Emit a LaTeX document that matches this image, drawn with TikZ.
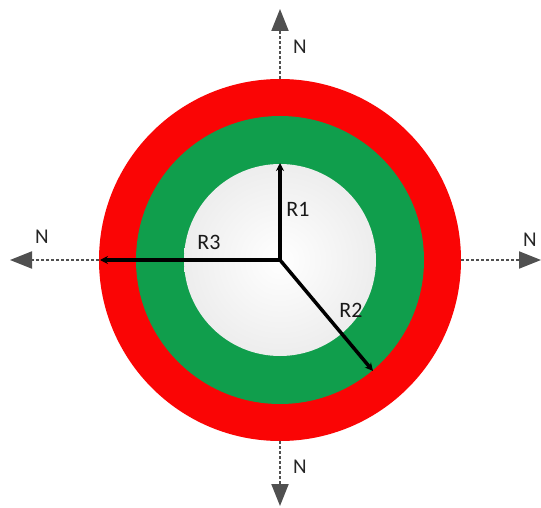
\documentclass[tikz,border=0pt]{standalone}
\usepackage{fontspec}
\setmainfont{Carlito}
\usetikzlibrary{arrows.meta}
\definecolor{ringred}{RGB}{250,5,5}
\definecolor{ringgreen}{RGB}{16,158,76}
\definecolor{dashgray}{RGB}{80,80,80}
\tikzset{
  lbl/.style={font=\fontsize{22}{24}\selectfont, text=black!90, inner sep=0pt},
  nlbl/.style={font=\fontsize{21}{23}\selectfont, text=black!85, inner sep=0pt},
  nline/.style={dashgray, line width=2pt, dash pattern=on 3pt off 2pt, -{Triangle[length=22pt,width=17pt]}},
  radius arrow/.style={black, line width=3.5pt, -{Stealth[length=8pt,width=8pt]}}
}
\begin{document}
\begin{tikzpicture}[x=1pt,y=-1pt]
\useasboundingbox (0,0) rectangle (541,508);
\fill[white] (0,0) rectangle (541,508);
\coordinate (c) at (280,260);
\fill[ringred] (c) circle[radius=181];
\fill[ringgreen] (c) circle[radius=144];
\shade[inner color=white, outer color=black!7] (c) circle[radius=96];
% radius arrows
\coordinate (r1) at (280,163);
\coordinate (r2) at (373,371);
\coordinate (r3) at (100,260);
\draw[radius arrow] (c) -- (r1);
\draw[radius arrow] (c) -- (r2);
\draw[radius arrow] (c) -- (r3);
\node[lbl] (l1) at (298,209) {R1};
\node[lbl] (l2) at (351,310) {R2};
\node[lbl] (l3) at (209,242) {R3};
% N arrows
\coordinate (et) at (280,79);
\coordinate (eb) at (280,441);
\coordinate (el) at (99,260);
\coordinate (er) at (461,260);
\coordinate (tt) at (280,9);
\coordinate (tb) at (280,506);
\coordinate (tl) at (10,260);
\coordinate (tr) at (541,260);
\draw[nline] (et) -- (tt);
\draw[nline] (eb) -- (tb);
\draw[nline] (el) -- (tl);
\draw[nline] (er) -- (tr);
\node[nlbl] (nt) at (300,47) {N};
\node[nlbl] (nb) at (300,467) {N};
\node[nlbl] (nl) at (42,237) {N};
\node[nlbl] (nr) at (530,240) {N};
\end{tikzpicture}
\end{document}
